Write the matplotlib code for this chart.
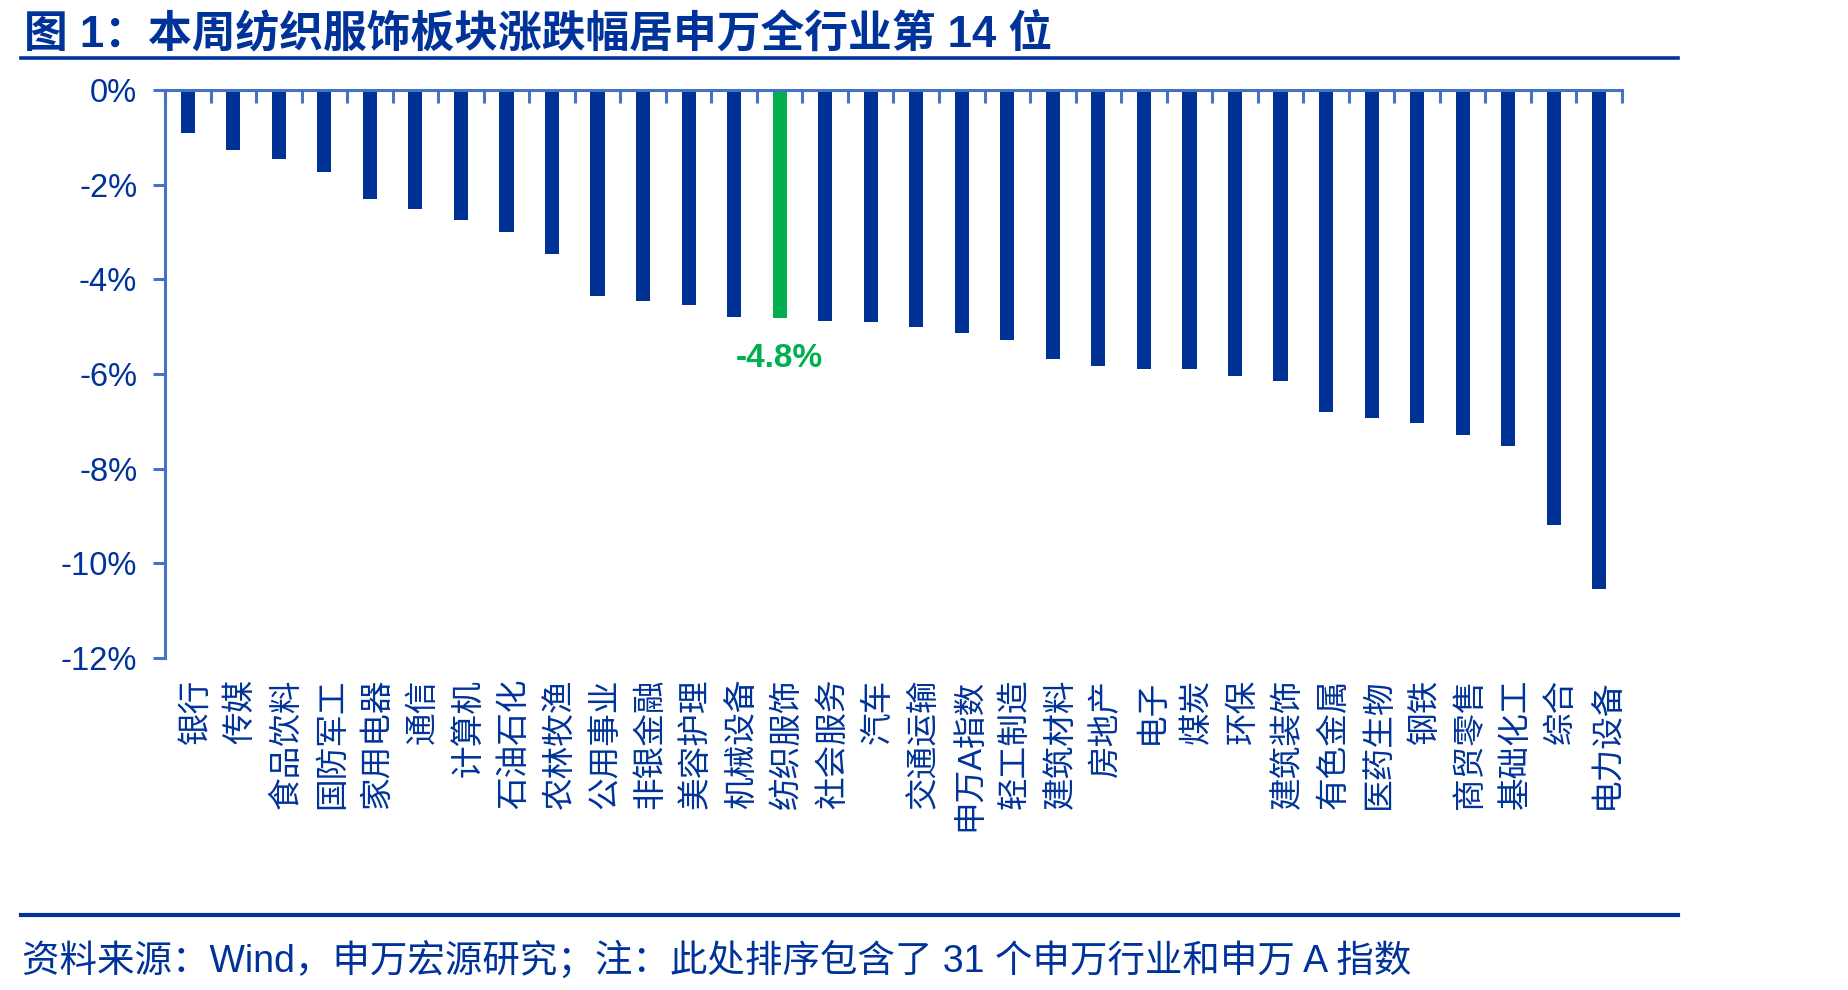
import matplotlib
matplotlib.use("Agg")
import matplotlib.pyplot as plt
import matplotlib.transforms as mtransforms
from matplotlib.lines import Line2D
from matplotlib.ticker import FixedLocator, FuncFormatter

plt.rcParams['font.family'] = ['Liberation Sans', 'Noto Sans CJK SC', 'DejaVu Sans']

NAVY = '#003399'
BAR = '#003296'
AXIS = '#4472C4'
GREEN = '#00B050'

categories = ['银行', '传媒', '食品饮料', '国防军工', '家用电器', '通信', '计算机', '石油石化',
              '农林牧渔', '公用事业', '非银金融', '美容护理', '机械设备', '纺织服饰', '社会服务',
              '汽车', '交通运输', '申万A指数', '轻工制造', '建筑材料', '房地产', '电子', '煤炭',
              '环保', '建筑装饰', '有色金属', '医药生物', '钢铁', '商贸零售', '基础化工', '综合',
              '电力设备']
changes = [-0.90, -1.27, -1.46, -1.73, -2.30, -2.51, -2.75, -3.00, -3.46, -4.35, -4.45,
           -4.54, -4.80, -4.81, -4.88, -4.90, -5.01, -5.13, -5.28, -5.68, -5.83, -5.89,
           -5.89, -6.05, -6.14, -6.80, -6.92, -7.03, -7.29, -7.52, -9.20, -10.55]
highlight = '纺织服饰'
y_ticks = [0, -2, -4, -6, -8, -10, -12]

title = '图 1：本周纺织服饰板块涨跌幅居申万全行业第 14 位'
source = '资料来源：Wind，申万宏源研究；注：此处排序包含了 31 个申万行业和申万 A 指数'

fig = plt.figure(figsize=(18.49, 9.90), dpi=100)
ax = fig.add_axes([165 / 1849, 1 - 658 / 990, (1622 - 165) / 1849, (658 - 90) / 990])

x = list(range(len(categories)))
colors = [GREEN if c == highlight else BAR for c in categories]
ax.bar(x, changes, width=0.31, color=colors, zorder=2)

ax.set_xlim(-0.5, len(categories) - 0.5)
ax.set_ylim(-12, 0)

for side in ('right', 'bottom'):
    ax.spines[side].set_visible(False)
for side in ('top', 'left'):
    ax.spines[side].set_color(AXIS)
    ax.spines[side].set_linewidth(2.2)
    ax.spines[side].set_zorder(3)

ax.set_yticks(y_ticks)
ax.yaxis.set_major_formatter(FuncFormatter(lambda v, p: f'{v:.0f}%'))
ax.tick_params(axis='y', direction='out', length=9, width=2.2, color=AXIS,
               labelcolor=NAVY, labelsize=23.5, pad=11)

ax.set_xticks(x)
ax.set_xticklabels(categories, rotation=90, ha='center', va='top')
ax.xaxis.set_minor_locator(FixedLocator([i - 0.5 for i in range(len(categories) + 1)]))
ax.tick_params(axis='x', which='major', bottom=True, top=False, length=0,
               labelcolor=NAVY, labelsize=23.5, pad=15)
ax.tick_params(axis='x', which='minor', bottom=False, top=True, direction='in',
               length=9, width=2.2, color=AXIS)
shift = mtransforms.ScaledTranslation(8 / 100, 0, fig.dpi_scale_trans)
for lab in ax.get_xticklabels():
    lab.set_transform(lab.get_transform() + shift)

hi = categories.index(highlight)
ax.annotate(f'{changes[hi]:.1f}%', xy=(hi, changes[hi]), xytext=(0, -18),
            textcoords='offset points', ha='center', va='top',
            fontsize=24, fontweight='bold', color=GREEN)

fig.text(24 / 1849, 1 - 46 / 990, title, fontsize=31.5, fontweight='bold',
         color=NAVY, va='baseline', ha='left')
fig.add_artist(Line2D([21 / 1849, 1678 / 1849], [1 - 57.5 / 990, 1 - 57.5 / 990],
                      color=NAVY, lw=2.6))
fig.add_artist(Line2D([21 / 1849, 1678 / 1849], [1 - 915 / 990, 1 - 915 / 990],
                      color=NAVY, lw=3.0))
fig.text(22 / 1849, 1 - 972 / 990, source, fontsize=27, color=NAVY,
         va='baseline', ha='left')

fig.savefig('out.png', dpi=100)
